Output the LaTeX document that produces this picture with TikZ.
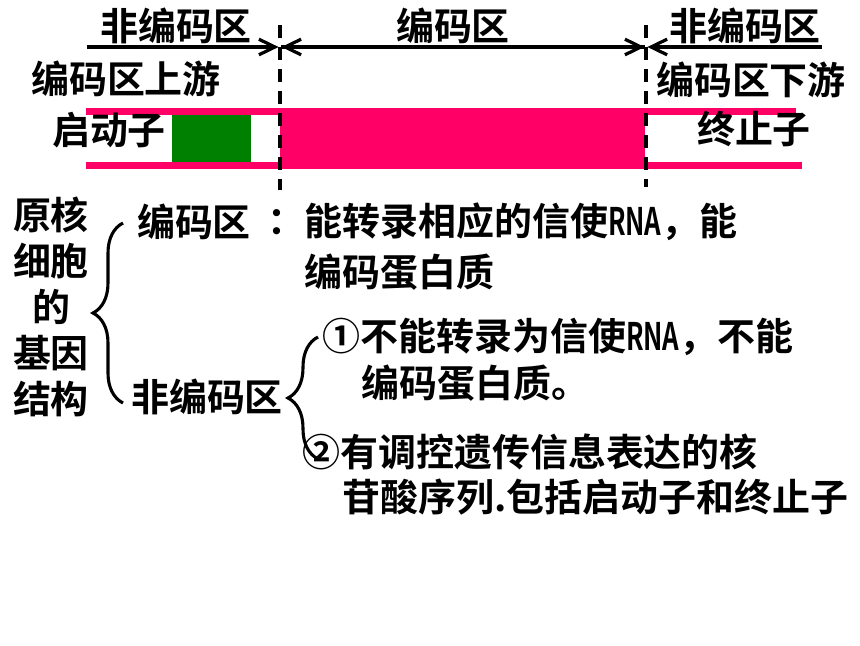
\documentclass[tikz,border=0pt]{standalone}
\usepackage{fontspec}
\setmainfont{Noto Sans CJK SC}[BoldFont={Noto Sans CJK SC Bold}]
\usepackage{graphicx}
\usepackage{tikz}
\usetikzlibrary{positioning, calc, arrows.meta, decorations.pathreplacing}
\definecolor{gene-pink}{RGB}{255,0,102}
\definecolor{gene-green}{RGB}{0,128,0}
\newcommand{\narrowtext}[1]{\scalebox{0.68}[1]{#1}}

\begin{document}
\begin{tikzpicture}[
    x=0.025cm, y=-0.025cm,
    label/.style={font=\fontsize{27}{32.6}\selectfont\bfseries, inner sep=0pt},
    span/.style={line width=2.3pt, shorten >=1pt, shorten <=1pt},
    barb/.style={-{Straight Barb[length=4mm, width=3.9mm]}},
    cut/.style={line width=2.3pt, dash pattern=on 0.33cm off 0.22cm},
    curly/.style={line width=2.2pt, decorate, decoration={brace, amplitude=0.75cm}}
]
\useasboundingbox (0,0) rectangle (860,645);

% gene strip
\fill[gene-pink] (86,108) rectangle (280,115);
\fill[gene-pink] (86,162) rectangle (280,169);
\fill[gene-pink] (280,108) rectangle (645,169);
\fill[gene-pink] (645,108) rectangle (796,115);
\fill[gene-pink] (645,162) rectangle (802,169);
\fill[gene-green] (172,115) rectangle (251,162);

% region borders
\coordinate (cut-l-top) at (280,25);
\coordinate (cut-l-bot) at (280,190);
\coordinate (cut-r-top) at (646,25);
\coordinate (cut-r-bot) at (646,187);
\draw[cut] (cut-l-top) -- (cut-l-bot);
\draw[cut] (cut-r-top) -- (cut-r-bot);

% spans
\coordinate (span-l) at (86,47);
\coordinate (cut-l-mid) at (280,47);
\coordinate (cut-r-mid) at (646,47);
\coordinate (span-r) at (823,47);
\draw[span, barb] (span-l) -- (cut-l-mid);
\draw[span, barb] (cut-l-mid) -- (cut-r-mid);
\draw[span, barb] (cut-r-mid) -- (cut-l-mid);
\draw[span, barb] (span-r) -- (cut-r-mid);

\node[label] (nc-up) at (176,26) {非编码区};
\node[label] (cod) at (453,26) {编码区};
\node[label] (nc-down) at (745,26) {非编码区};
\node[label] (upstream) at (126,79) {编码区上游};
\node[label] (downstream) at (751,80) {编码区下游};
\node[label] (promoter) at (109,130) {启动子};
\node[label] (terminator) at (754,129) {终止子};

% gene structure
\node[label, align=center] (title) at (51,307) {原核\\细胞\\的\\基因\\结构};

\coordinate (brace-a-bot) at (123,403);
\coordinate (brace-a-top) at (123,223);
\draw[curly] (brace-a-bot) -- (brace-a-top);

\node[label] (cod-part) at (194,222) {编码区};
\node[label] (colon) at (286,222) {：};
\node[label, anchor=west] (cod-text1) at (304,222) {能转录相应的信使\narrowtext{RNA}，能};
\node[label, below=0.3cm of cod-text1.south west, anchor=north west] (cod-text2) {编码蛋白质};

\node[label] (nc-part) at (207,397) {非编码区};

\coordinate (brace-b-bot) at (318,459);
\coordinate (brace-b-top) at (318,337);
\draw[curly] (brace-b-bot) -- (brace-b-top);

\node[label, anchor=west] (nc-one1) at (322,337) {①不能转录为信使\narrowtext{RNA}，不能};
\node[label, anchor=west] (nc-one2) at (361,383) {编码蛋白质。};
\node[label, anchor=west] (nc-two1) at (302,452) {②有调控遗传信息表达的核};
\node[label, anchor=west] (nc-two2) at (342,497) {苷酸序列.包括启动子和终止子};

\end{tikzpicture}
\end{document}
